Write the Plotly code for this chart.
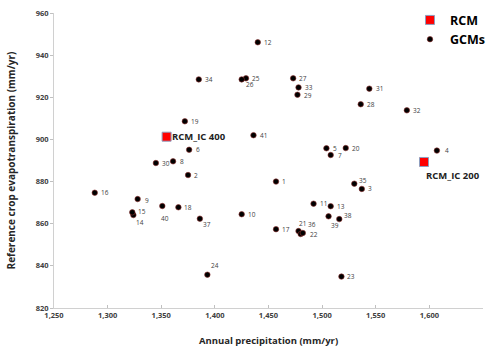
import plotly.graph_objects as go

# GCM data
gcm_ids = [1, 2, 3, 4, 5, 6, 7, 8, 9, 10, 11, 12, 13, 14, 15, 16, 17, 18, 19, 20,
           21, 22, 23, 24, 25, 26, 27, 28, 29, 30, 31, 32, 33, 34, 35, 36, 37, 38, 39, 40, 41]
gcm_precip = [1457, 1375, 1537, 1607, 1504, 1376, 1508, 1361, 1328, 1425, 1492, 1440, 1508, 1324, 1323, 1288, 1457, 1366, 1372, 1522,
              1478, 1480, 1518, 1393, 1429, 1425, 1473, 1536, 1477, 1345, 1544, 1579, 1478, 1385, 1530, 1482, 1386, 1516, 1506, 1351, 1436]
gcm_et0 = [880.0, 883.1, 876.5, 894.7, 895.8, 895.1, 892.6, 889.6, 871.7, 864.5, 869.5, 946.1, 868.3, 864.1, 865.4, 874.7, 857.4, 867.8, 908.6, 895.9,
           856.5, 855.1, 834.9, 835.8, 929.0, 928.5, 929.0, 916.7, 921.2, 888.8, 924.1, 913.8, 924.7, 928.5, 879.0, 855.6, 862.4, 862.2, 863.5, 868.4, 902.0]

# RCM data
rcm_names = ["RCM_IC 400", "RCM_IC 200"]
rcm_precip = [1355, 1595]
rcm_et0 = [901.3, 889.3]

# label offsets (pixels) for the GCM numbers: default to the right
default_off = (10, 0)
label_off = {14: (7, -7), 15: (10, 1), 26: (8, -5), 35: (9, 3), 37: (7, -6), 38: (9, 4),
             39: (6, -9), 40: (3, -12), 21: (4, 8), 36: (9, 8), 22: (13, 0), 24: (8, 9),
             1: (8, 0), 2: (8, 0), 3: (8, 0), 5: (9, 0), 6: (9, 0), 7: (9, 0), 8: (9, 0), 9: (9, -1),
             33: (10, 0), 29: (11, -1)}
rcm_off = {"RCM_IC 400": (32, 0), "RCM_IC 200": (29, -14)}

fig = go.Figure()
fig.add_trace(go.Scatter(
    x=rcm_precip, y=rcm_et0, mode="markers", name="<b>RCM</b>",
    marker=dict(symbol="square", size=9, color="#FF0000",
                line=dict(color="#8E9EBF", width=1)),
))
fig.add_trace(go.Scatter(
    x=gcm_precip, y=gcm_et0, mode="markers", name="<b>GCMs</b>",
    marker=dict(symbol="circle", size=5.5, color="#000000",
                line=dict(color="#8B2E2B", width=0.6)),
))

annotations = []
for i, xv, yv in zip(gcm_ids, gcm_precip, gcm_et0):
    dx, dy = label_off.get(i, default_off)
    annotations.append(dict(x=xv, y=yv, text=str(i), showarrow=False,
                            xshift=dx, yshift=dy,
                            font=dict(size=6.5, color="#404040", family="Open Sans")))
for n, xv, yv in zip(rcm_names, rcm_precip, rcm_et0):
    dx, dy = rcm_off[n]
    annotations.append(dict(x=xv, y=yv, text="<b>%s</b>" % n, showarrow=False,
                            xshift=dx, yshift=dy,
                            font=dict(size=9.5, color="#222222", family="Open Sans")))

fig.update_layout(
    width=491, height=354,
    margin=dict(l=54, r=8, t=13, b=46, autoexpand=False),
    paper_bgcolor="white", plot_bgcolor="white",
    font=dict(family="Open Sans", color="#404040"),
    annotations=annotations,
    legend=dict(xref="container", yref="container", x=0.835, y=0.985,
                xanchor="left", yanchor="top",
                font=dict(size=12.5, color="#000000", family="Open Sans"),
                bgcolor="rgba(0,0,0,0)", itemwidth=30, tracegroupgap=0),
    xaxis=dict(range=[1250, 1650], dtick=50, tickformat=",", showgrid=False,
               zeroline=False, showline=True, linecolor="#D0D0D0", linewidth=1,
               ticks="inside", ticklen=3, tickcolor="#C0C0C0", automargin=False,
               tickfont=dict(size=7.5, color="#404040", family="Open Sans", weight="bold"),
               title=dict(text="<b>Annual precipitation (mm/yr)</b>", standoff=18,
                          font=dict(size=9.5, color="#262626", family="Open Sans"))),
    yaxis=dict(range=[820, 960], dtick=20, showgrid=False, zeroline=False,
               showline=True, linecolor="#D0D0D0", linewidth=1,
               ticks="outside", ticklen=3, tickcolor="#C0C0C0", automargin=False,
               tickfont=dict(size=7.5, color="#404040", family="Open Sans", weight="bold"),
               title=dict(text="<b>Reference crop evapotranspiration (mm/yr)</b>", standoff=18,
                          font=dict(size=10, color="#262626", family="Open Sans"))),
    showlegend=True,
)

fig.write_html("out.html")
